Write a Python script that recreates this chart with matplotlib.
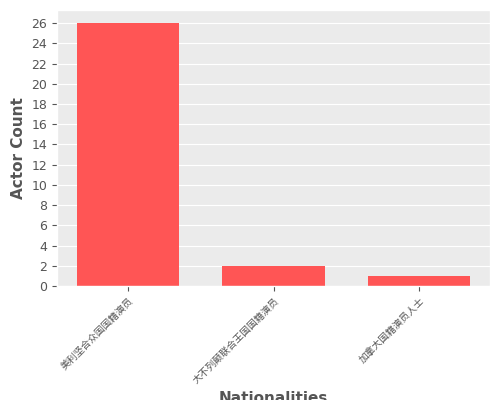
import matplotlib
matplotlib.use("Agg")
import matplotlib.pyplot as plt

nationalities = ["美利坚合众国国籍演员", "大不列颠联合王国国籍演员", "加拿大国籍演员人士"]
counts = [26, 2, 1]

plt.style.use("ggplot")
plt.rcParams['font.family'] = ['DejaVu Sans', 'Noto Sans CJK SC']
fig, ax = plt.subplots(figsize=(5, 4), dpi=100)
ax.set_facecolor("#EBEBEB")
ax.bar(range(len(counts)), counts, width=0.7, color="#FF5555")
ax.set_xticks(range(len(counts)))
ax.set_xticklabels(nationalities, rotation=45, ha="right", rotation_mode="anchor", fontsize=7,
                   family=['Noto Sans CJK SC'])
ax.grid(axis='x', visible=False)
ax.set_yticks(range(0, 27, 2))
ax.tick_params(axis='y', labelsize=9, colors="#555555")
ax.tick_params(axis='x', colors="#555555")
ax.set_xlabel("Nationalities", color="#555555", fontsize=11, fontweight="bold")
ax.set_ylabel("Actor Count", color="#555555", fontsize=11, fontweight="bold")
fig.subplots_adjust(left=0.114, right=0.98, top=0.975, bottom=0.285)
fig.savefig("out.png")
